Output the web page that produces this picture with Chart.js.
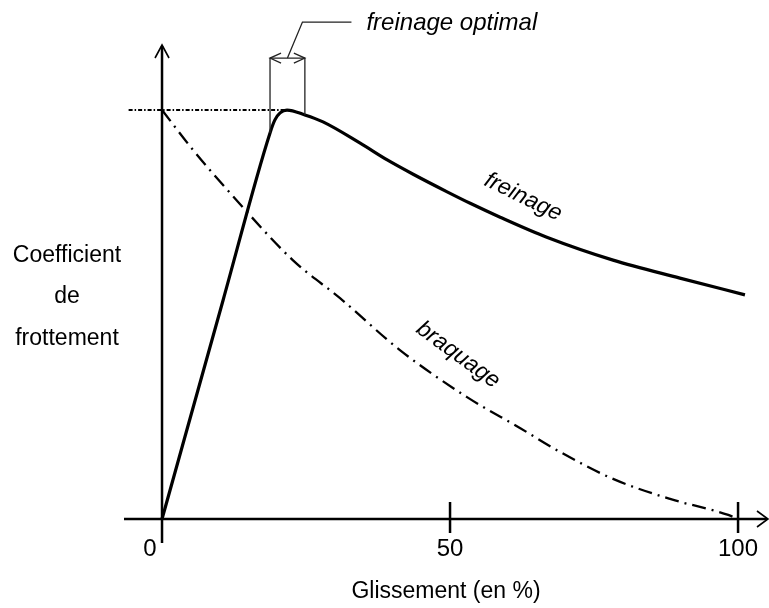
<!DOCTYPE html>
<html>
<head>
<meta charset="utf-8">
<script src="https://cdn.jsdelivr.net/npm/chart.js@4"></script>
<style>
html,body{margin:0;padding:0;background:#fff;}
#wrap{width:769px;height:608px;}
</style>
</head>
<body>
<div id="wrap"><canvas id="c" width="769" height="608"></canvas></div>
<script>
// ---- data (y normalised so that the peak = 1) ----
const freinageX = [0, 10.6, 18.75, 19.6, 20.5, 21.7, 24.8, 27.95, 34.4, 39.1, 43.6, 49.5, 53.5, 58.7, 66.8, 78.3, 89.9, 101.2];
const freinageY = [0, 0.535, 0.944, 0.976, 0.993, 1.0, 0.988, 0.971, 0.919, 0.878, 0.843, 0.800, 0.772, 0.738, 0.689, 0.633, 0.589, 0.548];
const braquageX = [0, 5.4, 12.15, 22.7, 30.9, 41.3, 52.95, 62.2, 69.1, 78.3, 88.2, 98.3, 100];
const braquageY = [1.0, 0.902, 0.792, 0.633, 0.540, 0.413, 0.298, 0.222, 0.164, 0.098, 0.049, 0.010, 0];
const tickValues = [0, 50, 100];
const tickLabels = ['0', '50', '100'];
const optimalRange = [18.75, 24.8];
const xTitle = 'Glissement (en %)';
const yTitle = ['Coefficient', 'de', 'frottement'];
const curveLabels = ['freinage', 'braquage'];
const optimalLabel = 'freinage optimal';

function pts(xs, ys){ return xs.map((x,i)=>({x:x, y:ys[i]})); }
function interp(xs, ys, x){
  for(let i=0;i<xs.length-1;i++){
    if(x>=xs[i] && x<=xs[i+1]){ const t=(x-xs[i])/(xs[i+1]-xs[i]); return ys[i]+t*(ys[i+1]-ys[i]); }
  }
  return ys[ys.length-1];
}

const FONT = '"Liberation Sans", Arial, sans-serif';

const decor = {
  id: 'decor',
  afterDatasetsDraw(chart){
    const ctx = chart.ctx, xs = chart.scales.x, ys = chart.scales.y;
    const X = v => xs.getPixelForValue(v), Y = v => ys.getPixelForValue(v);
    const x0 = X(0), y0 = Y(0);
    ctx.save();
    ctx.strokeStyle = '#000'; ctx.fillStyle = '#000';
    ctx.lineCap = 'butt';
    // x axis
    ctx.lineWidth = 2.5;
    ctx.beginPath(); ctx.moveTo(xs.left, y0); ctx.lineTo(xs.right - 1, y0); ctx.stroke();
    ctx.lineWidth = 1.6;
    ctx.beginPath(); ctx.moveTo(xs.right - 11, y0 - 8); ctx.lineTo(xs.right, y0); ctx.lineTo(xs.right - 11, y0 + 8); ctx.stroke();
    // y axis
    ctx.lineWidth = 2.5;
    ctx.beginPath(); ctx.moveTo(x0, y0 + 24); ctx.lineTo(x0, ys.top + 1); ctx.stroke();
    ctx.lineWidth = 1.6;
    ctx.beginPath(); ctx.moveTo(x0 - 7, ys.top + 13); ctx.lineTo(x0, ys.top); ctx.lineTo(x0 + 7, ys.top + 13); ctx.stroke();
    // ticks
    ctx.lineWidth = 2.5;
    tickValues.forEach(v => { if(v !== 0){ ctx.beginPath(); ctx.moveTo(X(v), y0 - 17); ctx.lineTo(X(v), y0 + 14); ctx.stroke(); } });
    // tick labels
    ctx.font = '24px ' + FONT; ctx.textAlign = 'center'; ctx.textBaseline = 'middle';
    tickValues.forEach((v,i) => { ctx.fillText(tickLabels[i], X(v) + (v === 0 ? -12 : 0), y0 + 30); });
    // axis titles
    ctx.font = '23px ' + FONT;
    ctx.fillText(xTitle, X(49.3), y0 + 73);
    ctx.fillText(yTitle[0], 67, Y(0.645));
    ctx.fillText(yTitle[1], 67, Y(0.543));
    ctx.fillText(yTitle[2], 67, Y(0.44));
    // dotted peak level line
    const peakX = freinageX[freinageY.indexOf(Math.max(...freinageY))];
    ctx.lineWidth = 2; ctx.setLineDash([4, 2, 1.5, 2]);
    ctx.beginPath(); ctx.moveTo(X(-5.8), Y(1)); ctx.lineTo(X(peakX), Y(1)); ctx.stroke();
    ctx.setLineDash([]);
    // optimal braking bracket
    const bTop = Y(1.127);
    ctx.strokeStyle = '#222'; ctx.lineWidth = 1.3;
    optimalRange.forEach(v => {
      ctx.beginPath(); ctx.moveTo(X(v), bTop); ctx.lineTo(X(v), Y(interp(freinageX, freinageY, v))); ctx.stroke();
    });
    const bl = X(optimalRange[0]), br = X(optimalRange[1]);
    ctx.beginPath(); ctx.moveTo(bl, bTop); ctx.lineTo(br, bTop); ctx.stroke();
    ctx.beginPath(); ctx.moveTo(bl + 11, bTop - 5); ctx.lineTo(bl, bTop); ctx.lineTo(bl + 11, bTop + 5); ctx.stroke();
    ctx.beginPath(); ctx.moveTo(br - 11, bTop - 5); ctx.lineTo(br, bTop); ctx.lineTo(br - 11, bTop + 5); ctx.stroke();
    // leader line
    const mid = (bl + br) / 2;
    ctx.beginPath(); ctx.moveTo(mid, bTop); ctx.lineTo(mid + 15, bTop - 36); ctx.lineTo(mid + 64, bTop - 36); ctx.stroke();
    ctx.fillStyle = '#000';
    ctx.font = 'italic 24px ' + FONT; ctx.textAlign = 'left';
    ctx.fillText(optimalLabel, mid + 79, bTop - 35);
    // curve labels
    ctx.font = 'italic 23px ' + FONT;
    ctx.textAlign = 'center';
    ctx.save(); ctx.translate(X(62.7), Y(0.787)); ctx.rotate(26 * Math.PI / 180); ctx.fillText(curveLabels[0], 0, 0); ctx.restore();
    ctx.save(); ctx.translate(X(51.4), Y(0.401)); ctx.rotate(36 * Math.PI / 180); ctx.fillText(curveLabels[1], 0, 0); ctx.restore();
    ctx.restore();
  }
};

new Chart(document.getElementById('c'), {
  type: 'scatter',
  data: {
    datasets: [
      { label: 'freinage', data: pts(freinageX, freinageY), showLine: true, borderColor: '#000', borderWidth: 3.2,
        pointRadius: 0, cubicInterpolationMode: 'monotone', clip: false, borderJoinStyle: 'round' },
      { label: 'braquage', data: pts(braquageX, braquageY), showLine: true, borderColor: '#000', borderWidth: 2.3,
        borderDash: [14, 6, 2, 6], pointRadius: 0, cubicInterpolationMode: 'monotone', clip: false }
    ]
  },
  options: {
    responsive: false, animation: false,
    layout: { padding: { left: 124, right: 1, top: 45, bottom: 89 } },
    plugins: { legend: { display: false }, tooltip: { enabled: false } },
    scales: {
      x: { type: 'linear', min: -6.6, max: 105.2, display: false },
      y: { type: 'linear', min: 0, max: 1.159, display: false }
    }
  },
  plugins: [decor]
});
</script>
</body>
</html>
